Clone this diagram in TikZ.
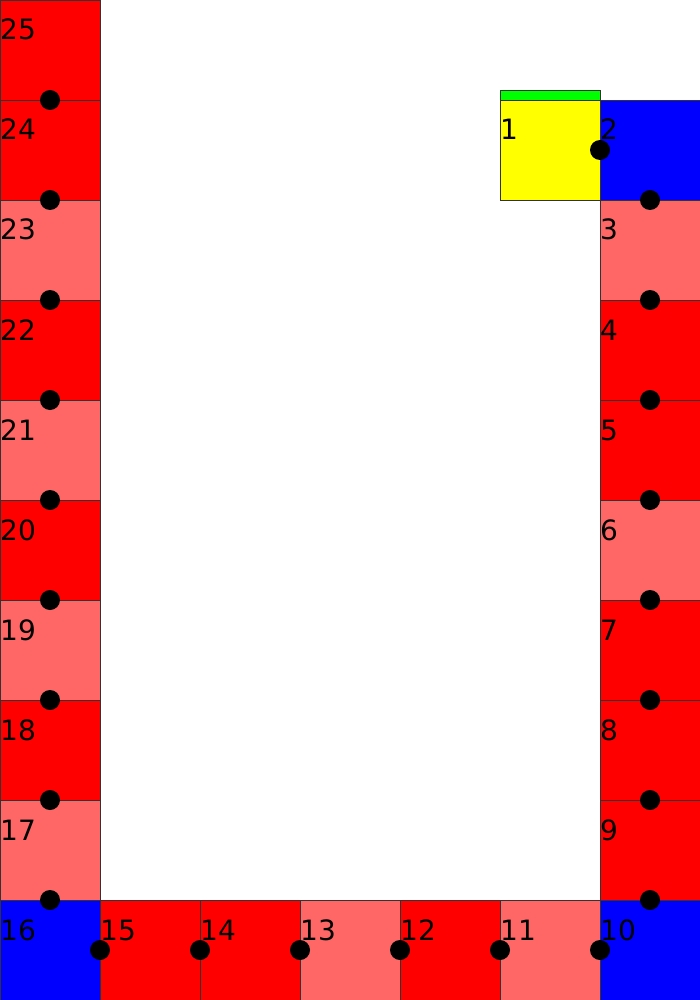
\documentclass[tikz,border=0pt]{standalone}
\usepackage{fontspec}
\setmainfont{DejaVu Sans}
\definecolor{cred}{HTML}{FF0000}
\definecolor{clight}{HTML}{FF6666}
\definecolor{cblue}{HTML}{0000FF}
\definecolor{cyel}{HTML}{FFFF00}
\definecolor{cgreen}{HTML}{00FF00}
\definecolor{cedge}{HTML}{333333}
\tikzset{
  cell/.style={draw=cedge, line width=0.8pt},
  lab/.style={anchor=base west, inner sep=0pt, font=\fontsize{28}{30}\selectfont},
  dot/.style={circle, fill=black, inner sep=0pt, minimum size=20pt}
}
\begin{document}
\begin{tikzpicture}[x=1pt,y=-1pt]
\useasboundingbox (0,0) rectangle (700,1000);
% cells: x, y, colour, label
\foreach \x/\y/\c/\n in {
  500/100/cyel/1, 600/100/cblue/2, 600/200/clight/3, 600/300/cred/4,
  600/400/cred/5, 600/500/clight/6, 600/600/cred/7, 600/700/cred/8,
  600/800/cred/9, 600/900/cblue/10, 500/900/clight/11, 400/900/cred/12,
  300/900/clight/13, 200/900/cred/14, 100/900/cred/15, 0/900/cblue/16,
  0/800/clight/17, 0/700/cred/18, 0/600/clight/19, 0/500/cred/20,
  0/400/clight/21, 0/300/cred/22, 0/200/clight/23, 0/100/cred/24, 0/0/cred/25}{
  \fill[\c] (\x,\y) rectangle ++(100,100);
  \draw[cell] (\x,\y) rectangle ++(100,100);
  \node[lab] (l\n) at (\x,\y+40) {\n};
}
\fill[cgreen] (500,90) rectangle (600,100);
\draw[cell] (500,90) rectangle (600,100);
% dots
\foreach \x/\y/\n in {
  600/150/a, 650/200/b, 650/300/c, 650/400/d, 650/500/e, 650/600/f,
  650/700/g, 650/800/h, 650/900/i, 600/950/j, 500/950/k, 400/950/l,
  300/950/m, 200/950/n, 100/950/o, 50/900/p, 50/800/q, 50/700/r,
  50/600/s, 50/500/t, 50/400/u, 50/300/v, 50/200/w, 50/100/z}{
  \node[dot] (d\n) at (\x,\y) {};
}
\end{tikzpicture}
\end{document}
